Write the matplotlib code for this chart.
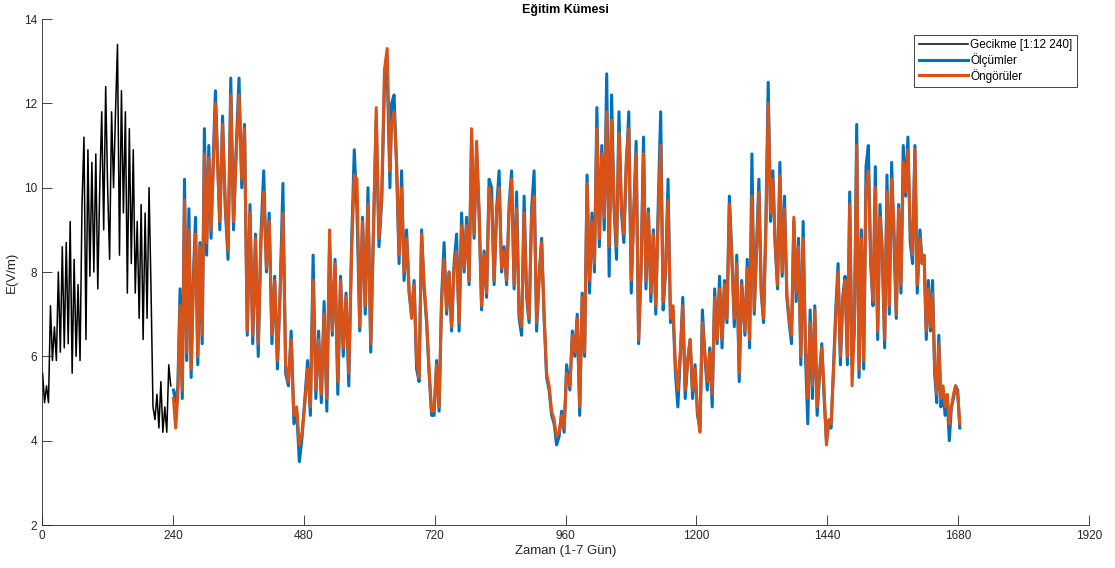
import numpy as np
import matplotlib
matplotlib.use("Agg")
import matplotlib.pyplot as plt

# delay / lag window (black), samples 1..236
gecikme = [5.6, 4.9, 5.3, 4.9, 7.2, 5.9, 6.7, 5.9, 8.0, 6.1, 8.6, 6.2, 8.7, 6.3, 9.2, 5.6,
           8.3, 6.0, 7.7, 5.9, 9.6, 11.2, 6.4, 10.9, 7.9, 10.6, 8.0, 10.8, 7.6, 10.0, 11.8,
           9.0, 12.4, 10.0, 8.3, 11.8, 10.0, 11.8, 13.4, 8.4, 12.3, 9.4, 11.8, 7.5, 11.4,
           8.2, 10.9, 7.5, 9.2, 6.9, 9.6, 6.4, 9.4, 6.9, 10.0, 7.6, 4.8, 4.5, 5.1, 4.3,
           5.4, 4.2, 4.8, 4.2, 5.8, 5.3]
gecikme_span = (1, 236)

# measurements / predictions, read in six stretches of time
seg_spans = [(241, 318), (326, 638), (641, 962), (968, 1283), (1289, 1605), (1610, 1683)]

olcum_a = [5.2, 4.9, 5.3, 7.6, 5.0, 10.2, 5.9, 9.5, 5.5, 7.9, 9.3, 5.8, 8.7, 6.3, 11.4,
           8.4, 11.0, 8.8, 10.7, 12.3]
ongoru_a = [5.0, 4.3, 5.1, 7.2, 5.2, 9.7, 6.1, 9.0, 5.7, 7.7, 8.9, 6.0, 8.6, 6.5, 10.8,
            8.7, 10.7, 9.0, 10.4, 12.0]

olcum_b = [9.0, 11.7, 9.5, 8.3, 12.6, 9.0, 11.0, 12.6, 10.0, 11.5, 6.5, 9.6, 6.3, 8.9,
           6.0, 8.9, 10.4, 8.0, 9.4, 6.3, 7.9, 5.7, 7.6, 10.1, 5.6, 5.3, 6.6, 4.4, 4.7,
           3.5, 4.1, 5.0, 5.9, 4.6, 8.4, 5.0, 6.6, 4.9, 7.3, 4.7, 8.6, 6.5, 8.3, 5.1, 7.9,
           6.0, 7.5, 5.3, 8.6, 10.9, 9.4, 6.6, 9.3, 7.0, 10.0, 6.1, 9.0, 11.6, 8.6, 9.7,
           12.4, 12.8, 10.0]
ongoru_b = [9.2, 11.5, 9.6, 8.5, 12.2, 9.2, 10.8, 12.2, 10.2, 11.4, 6.6, 9.4, 6.5, 8.8,
            6.3, 8.7, 9.9, 8.1, 9.2, 6.5, 7.8, 5.9, 7.5, 9.4, 5.8, 5.4, 6.4, 4.6, 4.8,
            3.9, 4.2, 4.9, 5.7, 4.8, 7.8, 5.2, 6.4, 5.1, 7.0, 5.0, 9.0, 6.6, 8.2, 5.4, 7.8,
            6.2, 7.4, 5.6, 8.4, 10.3, 10.2, 6.7, 9.2, 7.2, 9.6, 6.3, 9.0, 11.9, 8.8, 9.8,
            12.8, 13.3, 10.4]

olcum_c = [12.0, 12.2, 10.5, 8.2, 10.4, 7.8, 9.0, 7.5, 7.0, 7.8, 5.7, 5.4, 9.0, 7.6, 6.8,
           5.6, 4.6, 4.6, 5.9, 4.7, 7.4, 8.7, 7.0, 8.0, 6.6, 8.2, 8.9, 6.6, 9.4, 8.0, 9.3,
           7.7, 11.2, 8.8, 10.9, 9.4, 7.1, 8.5, 7.4, 10.2, 10.0, 7.7, 9.5, 10.4, 8.0, 8.6,
           7.7, 9.6, 10.4, 7.6, 9.9, 6.9, 6.5, 9.8, 7.4, 6.8, 9.5, 10.4, 6.6, 7.9, 8.8,
           6.9, 5.5, 5.2, 4.6, 4.4, 3.9, 4.1, 4.7, 4.2, 5.8]
ongoru_c = [11.5, 11.8, 10.6, 8.4, 10.0, 8.0, 8.8, 7.6, 6.9, 7.7, 5.9, 5.5, 8.9, 7.7, 6.9,
            5.7, 4.7, 4.7, 5.8, 4.8, 7.3, 8.3, 7.1, 8.0, 6.7, 8.1, 8.5, 6.8, 9.1, 8.1, 9.1,
            7.8, 11.4, 8.9, 11.1, 9.4, 7.2, 8.4, 7.5, 10.0, 9.6, 7.8, 9.4, 10.0, 8.1, 8.5,
            7.8, 9.4, 10.2, 7.7, 9.5, 7.0, 6.7, 9.4, 7.5, 6.9, 9.3, 9.8, 6.8, 7.8, 8.7,
            7.0, 5.6, 5.3, 4.7, 4.5, 4.1, 4.2, 4.6, 4.3, 5.6]

olcum_d = [5.2, 6.6, 6.0, 7.0, 4.6, 7.5, 6.0, 10.3, 7.5, 9.4, 8.0, 11.9, 8.6, 11.0, 9.0,
           12.7, 7.9, 12.2, 9.5, 8.3, 11.8, 9.4, 8.7, 10.5, 11.8, 7.5, 9.4, 11.1, 6.3,
           8.0, 11.2, 7.6, 9.5, 7.3, 9.0, 7.0, 9.6, 11.8, 7.1, 8.0, 10.2, 6.8, 7.1, 5.6,
           4.8, 6.0, 7.4, 5.0, 5.9, 6.4, 5.0, 5.8, 4.6, 4.3, 7.1, 6.0, 5.2, 6.2, 4.8, 7.6,
           6.3, 7.9, 6.2, 7.8, 6.8, 9.8, 8.4, 6.7, 8.4, 5.4, 7.8]
ongoru_d = [5.3, 6.5, 6.1, 6.9, 4.8, 7.4, 6.1, 10.1, 7.8, 9.2, 8.2, 11.4, 8.8, 10.8, 9.3,
            11.8, 8.6, 11.6, 9.6, 8.6, 11.3, 9.6, 8.9, 10.7, 11.4, 7.8, 9.3, 10.8, 6.4,
            8.1, 10.8, 7.8, 9.4, 7.5, 8.9, 7.2, 9.3, 11.0, 7.3, 8.1, 9.7, 6.9, 7.2, 5.8,
            5.2, 6.1, 7.2, 5.2, 5.9, 6.4, 5.2, 5.7, 4.7, 4.2, 6.8, 6.1, 5.4, 6.1, 5.1, 7.4,
            6.4, 7.6, 6.4, 7.7, 6.9, 9.6, 8.3, 6.9, 8.2, 5.6, 7.7]

olcum_e = [6.5, 8.3, 6.2, 10.8, 7.0, 8.6, 10.2, 7.5, 6.8, 9.2, 12.5, 9.2, 10.4, 8.6, 7.6,
           10.6, 7.9, 9.8, 7.4, 6.8, 6.3, 9.2, 7.3, 8.8, 5.8, 9.2, 6.0, 4.4, 7.1, 5.0, 7.2,
           4.6, 5.5, 6.3, 5.0, 4.0, 4.4, 4.3, 5.7, 7.1, 8.2, 5.8, 7.4, 7.9, 5.8, 9.9, 5.8,
           6.6, 11.5, 5.5, 9.0, 5.7, 10.5, 11.0, 8.2, 7.2, 10.5, 6.4, 9.6, 8.4, 6.2, 10.3,
           7.0, 10.6, 8.7, 6.9, 9.6, 7.5, 11.0, 9.8, 11.2, 8.7, 8.2, 11.0, 7.5]
ongoru_e = [6.6, 8.1, 6.4, 9.8, 7.1, 8.5, 9.9, 7.6, 6.9, 9.0, 12.0, 9.4, 10.2, 8.7, 7.7,
            10.3, 8.0, 9.5, 7.5, 6.9, 6.5, 9.3, 7.5, 8.6, 6.0, 8.8, 6.3, 5.0, 6.8, 5.3, 7.1,
            4.8, 5.6, 6.2, 5.2, 3.9, 4.5, 4.4, 5.6, 6.9, 8.0, 6.0, 7.3, 7.8, 6.0, 9.6, 5.3,
            6.7, 11.0, 5.7, 8.8, 5.9, 10.0, 10.4, 8.3, 7.3, 10.0, 6.6, 9.3, 8.5, 6.4, 9.9,
            7.2, 10.2, 9.1, 7.0, 9.5, 7.7, 10.6, 9.9, 10.9, 9.0, 8.4, 10.9, 7.7]

olcum_f = [9.0, 8.2, 8.3, 6.4, 7.8, 6.6, 7.8, 5.6, 4.9, 6.5, 4.8, 5.2, 4.6, 5.0, 4.0, 4.8,
           5.0, 5.3, 5.2, 4.3]
ongoru_f = [8.8, 8.2, 8.4, 6.6, 7.6, 6.7, 7.5, 5.8, 5.1, 6.3, 5.0, 5.3, 4.8, 5.1, 4.4, 4.8,
            5.1, 5.3, 5.1, 4.4]

x_ticks = list(range(0, 1921, 240))
y_ticks = list(range(2, 15, 2))

olcum = [olcum_a, olcum_b, olcum_c, olcum_d, olcum_e, olcum_f]
ongoru = [ongoru_a, ongoru_b, ongoru_c, ongoru_d, ongoru_e, ongoru_f]
t_seg = np.concatenate([np.linspace(a, b, len(s)) for (a, b), s in zip(seg_spans, olcum)])
y_olcum = np.concatenate(olcum)
y_ongoru = np.concatenate(ongoru)
t_gec = np.linspace(gecikme_span[0], gecikme_span[1], len(gecikme))

plt.rcParams["font.family"] = ["Liberation Sans", "DejaVu Sans"]

fig = plt.figure(figsize=(11.15, 5.68), dpi=100)
ax = fig.add_axes([0.0377, 0.0757, 0.939, 0.8908])

ax.plot(t_gec, gecikme, color="black", linewidth=1.1, label="Gecikme [1:12 240]")
ax.plot(t_seg, y_olcum, color="#0072BD", linewidth=2.2, label="Ölçümler")
ax.plot(t_seg, y_ongoru, color="#D95319", linewidth=2.2, label="Öngörüler")

ax.set_xlim(0, 1920)
ax.set_ylim(2, 14)
ax.set_xticks(x_ticks)
ax.set_yticks(y_ticks)
for side in ("top", "right"):
    ax.spines[side].set_visible(False)
for side in ("left", "bottom"):
    ax.spines[side].set_color("#262626")
    ax.spines[side].set_linewidth(0.6)
ax.tick_params(direction="in", length=7, width=0.6, colors="#262626", labelsize=8.5)

ax.set_title("Eğitim Kümesi", fontsize=9, fontweight="bold", pad=4)
ax.set_xlabel("Zaman (1-7 Gün)", fontsize=9.5, color="#262626", labelpad=2)
ax.set_ylabel("E(V/m)", fontsize=9.5, color="#262626", labelpad=4)

leg = ax.legend(loc="upper right", bbox_to_anchor=(0.994, 0.98), fontsize=8.5,
                fancybox=False, edgecolor="#262626", framealpha=1,
                handlelength=4.2, borderpad=0.35, labelspacing=0.15, handletextpad=0.2)
leg.get_frame().set_linewidth(0.6)

fig.savefig("out.png", dpi=100)
